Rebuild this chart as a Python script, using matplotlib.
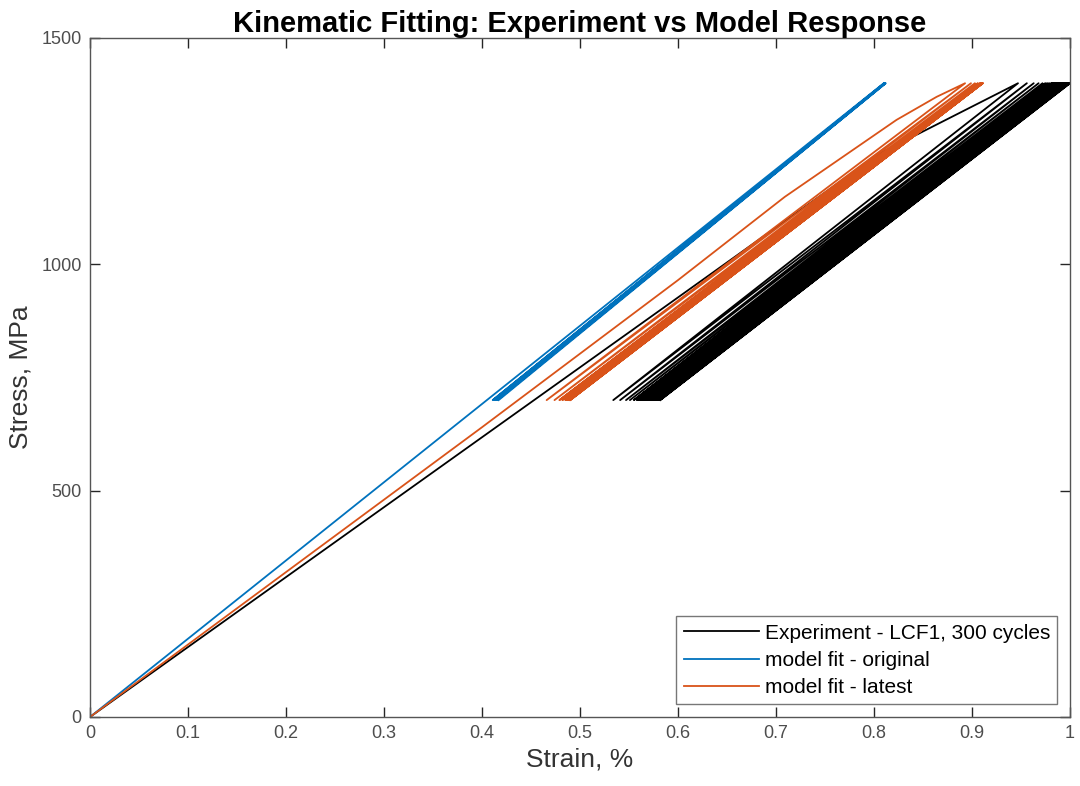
import matplotlib.pyplot as plt
import numpy as np

plt.rcParams["font.family"] = ["Liberation Sans", "DejaVu Sans"]

# 加载段 (应变 %, 应力 MPa)
exp_load_strain = [0.0, 0.806, 0.947]
exp_load_stress = [0.0, 1245.0, 1400.0]
orig_load_strain = [0.0, 0.810]
orig_load_stress = [0.0, 1400.0]
latest_load_strain = [0.0, 0.400, 0.600, 0.709, 0.823, 0.864, 0.893]
latest_load_stress = [0.0, 640.0, 965.0, 1149.0, 1319.0, 1370.0, 1400.0]

# 循环峰值/谷值应变
exp_peaks = [0.947, 0.956, 0.963, 0.968, 0.972, 0.975, 0.977, 0.979, 0.981, 0.982,
             0.983, 0.984, 0.985, 0.986, 0.987, 0.988, 0.989, 0.990, 0.991, 0.992,
             0.993, 0.994, 0.995, 0.996, 0.997, 0.998, 0.999, 1.000]
exp_valleys = [0.534, 0.541, 0.547, 0.551, 0.555, 0.558, 0.560, 0.562, 0.564, 0.565,
               0.566, 0.567, 0.568, 0.569, 0.570, 0.571, 0.572, 0.573, 0.574, 0.575,
               0.576, 0.577, 0.578, 0.579, 0.580, 0.581, 0.5815, 0.582]
orig_peaks = [0.810, 0.8105, 0.811, 0.8115, 0.812]
orig_valleys = [0.411, 0.4125, 0.414, 0.4155, 0.417]
latest_peaks = [0.893, 0.899, 0.903, 0.906, 0.908, 0.909, 0.910, 0.9105, 0.911, 0.911]
latest_valleys = [0.466, 0.474, 0.479, 0.482, 0.485, 0.487, 0.488, 0.489, 0.490, 0.490]

stress_max = 1400.0
stress_min = 700.0


def build_path(load_strain, load_stress, peaks, valleys):
    """拼接初始加载段和后续循环"""
    x = list(load_strain)
    y = list(load_stress)
    for i, v in enumerate(valleys):
        x.append(v)
        y.append(stress_min)
        if i + 1 < len(peaks):
            x.append(peaks[i + 1])
            y.append(stress_max)
    return np.array(x), np.array(y)


ex, ey = build_path(exp_load_strain, exp_load_stress, exp_peaks, exp_valleys)
ox, oy = build_path(orig_load_strain, orig_load_stress, orig_peaks, orig_valleys)
lx, ly = build_path(latest_load_strain, latest_load_stress, latest_peaks, latest_valleys)

fig = plt.figure(figsize=(10.8, 7.86), dpi=100)
ax = fig.add_axes([0.0833, 0.0878, 0.9074, 0.8639])

ax.plot(ex, ey, color="black", lw=1.3, label="Experiment - LCF1, 300 cycles")
ax.plot(ox, oy, color="#0072BD", lw=1.3, label="model fit - original")
ax.plot(lx, ly, color="#D95319", lw=1.3, label="model fit - latest")

ax.set_xlim(0, 1)
ax.set_ylim(0, 1500)
ax.set_xticks(np.arange(0, 1.01, 0.1))
ax.set_xticklabels(["0", "0.1", "0.2", "0.3", "0.4", "0.5", "0.6", "0.7", "0.8", "0.9", "1"])
ax.set_yticks([0, 500, 1000, 1500])
ax.tick_params(direction="in", top=True, right=True, length=7, width=1.0,
               labelsize=13, colors="#262626", labelcolor="#4d4d4d", pad=6)
for s in ax.spines.values():
    s.set_color("#555555")
    s.set_linewidth(1.0)

ax.set_xlabel("Strain, %", fontsize=19, color="#333333", labelpad=4)
ax.set_ylabel("Stress, MPa", fontsize=19, color="#333333", labelpad=6)
ax.set_title("Kinematic Fitting: Experiment vs Model Response", fontsize=21,
             fontweight="bold", pad=4)

# 图例放在右下角
leg = ax.legend(loc="lower right", fontsize=15, frameon=True, fancybox=False,
                edgecolor="#555555", handlelength=3.6, handletextpad=0.3,
                borderaxespad=0.6, labelspacing=0.4, borderpad=0.35)
leg.get_frame().set_linewidth(1.0)

fig.savefig("out.png", dpi=100)
